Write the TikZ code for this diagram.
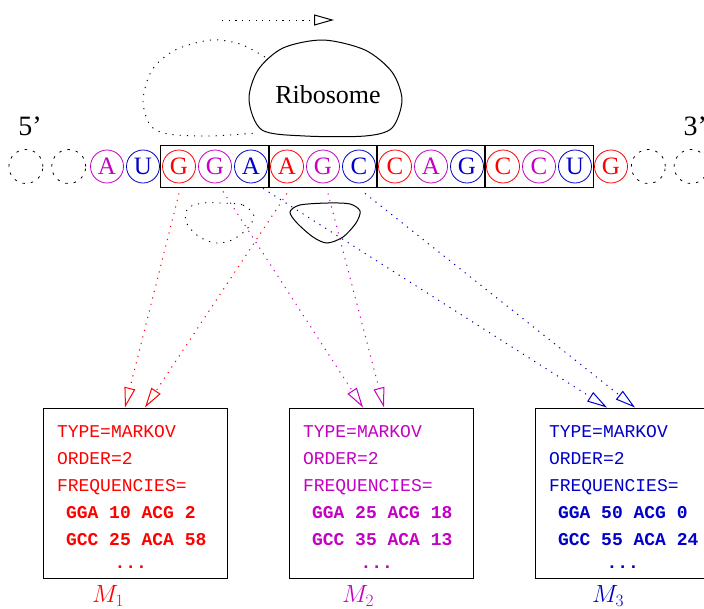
\documentclass[tikz,border=0pt]{standalone}
\usepackage{fontspec}
\setmainfont{Liberation Serif}
\setmonofont{Liberation Mono}
\usetikzlibrary{arrows.meta,positioning,fit}
\definecolor{cred}{RGB}{255,0,0}
\definecolor{cmag}{RGB}{195,0,195}
\definecolor{cblue}{RGB}{0,0,200}
\colorlet{cc0}{cred}
\colorlet{cc1}{cmag}
\colorlet{cc2}{cblue}
\newcommand{\tsp}{\hspace*{0.6em}}
\tikzstyle{base} = [circle, draw, line width=0.8pt, minimum size=33pt, inner sep=0pt, font=\fontsize{25}{25}\selectfont]
\tikzstyle{ghost} = [circle, draw, line width=0.8pt, minimum size=34pt, inner sep=0pt, dash pattern=on 2.5pt off 6pt]
\tikzstyle{codon} = [rectangle, draw, line width=1pt, inner xsep=2pt, inner ysep=4pt]
\tikzstyle{modelbox} = [rectangle, draw, line width=1pt, minimum width=184pt, minimum height=170pt]
\tikzstyle{modeltext} = [text width=156pt, align=left, inner sep=0pt, font=\ttfamily\fontsize{18}{27}\selectfont]
\tikzstyle{link} = [line width=1pt, dash pattern=on 1.2pt off 5.5pt, -{Triangle[open,length=20pt,width=11pt,line width=1pt]}]
\tikzstyle{trace} = [line width=0.9pt, dash pattern=on 1.2pt off 6pt]
\tikzstyle{mlabel} = [inner sep=2pt, font=\fontsize{27}{27}\selectfont]

\begin{document}
\begin{tikzpicture}[x=1pt, y=-1pt]
\useasboundingbox (0,0) rectangle (704,608);

% mRNA strand
\foreach \l [count=\i] in {A,U,G,G,A,A,G,C,C,A,G,C,C,U,G} {
  \pgfmathtruncatemacro\r{mod(\i,3)}
  \node[base, draw=cc\r, text=cc\r] (n\i) at ({71+36*\i},166.5) {\l};
}
\node[ghost, left=4pt of n1] (g2) {};
\node[ghost, left=8pt of g2] (g1) {};
\node[ghost, right=3pt of n15] (g3) {};
\node[ghost, right=8pt of g3] (g4) {};
\node[font=\fontsize{28}{28}\selectfont] (five) at (30,126) {5'};
\node[font=\fontsize{28}{28}\selectfont, anchor=west] (three) at (680,126) {3'};

% codons
\node[codon, fit=(n3)(n5)] (c1) {};
\node[codon, fit=(n6)(n8)] (c2) {};
\node[codon, fit=(n9)(n11)] (c3) {};
\node[codon, fit=(n12)(n14)] (c4) {};

% ribosome and its previous position
\node[font=\fontsize{26}{26}\selectfont] (ribo) at (328,95) {Ribosome};
\draw[line width=1pt] plot[smooth cycle] coordinates {(323,40) (365,50) (392,72) (402,100) (392,128) (365,136) (305,136) (262,130) (249,100) (258,70) (283,48)};
\draw[line width=1pt] plot[smooth cycle] coordinates {(328,203) (350,204) (360,211) (356,223) (343,237) (327,243) (313,237) (297,223) (290,212) (300,205)};
\draw[trace] plot[smooth] coordinates {(265,57) (240,44) (211,40) (175,50) (152,70) (143,100) (150,125) (168,134) (210,136) (256,133)};
\draw[trace] plot[smooth cycle] coordinates {(220,203) (243,205) (254,216) (247,229) (232,240) (215,243) (198,236) (186,222) (188,208) (203,203)};
\coordinate (mv0) at (222,20);
\coordinate (mv1) at (334,20);
\draw[link] (mv0) -- (mv1);

% models
\node[modelbox] (m1) at (135,493) {};
\node[modelbox, right=61pt of m1] (m2) {};
\node[modelbox, right=61pt of m2] (m3) {};
\node[modeltext, text=cred, yshift=-4pt] (t1) at (m1) {TYPE=MARKOV\\ORDER=2\\FREQUENCIES=\\\bfseries\hspace*{0.5em}GGA\tsp 10\tsp ACG\tsp 2\\\hspace*{0.5em}GCC\tsp 25\tsp ACA\tsp 58\\[-4pt]\hspace*{3.2em}...};
\node[modeltext, text=cmag, yshift=-4pt] (t2) at (m2) {TYPE=MARKOV\\ORDER=2\\FREQUENCIES=\\\bfseries\hspace*{0.5em}GGA\tsp 25\tsp ACG\tsp 18\\\hspace*{0.5em}GCC\tsp 35\tsp ACA\tsp 13\\[-4pt]\hspace*{3.2em}...};
\node[modeltext, text=cblue, yshift=-4pt] (t3) at (m3) {TYPE=MARKOV\\ORDER=2\\FREQUENCIES=\\\bfseries\hspace*{0.5em}GGA\tsp 50\tsp ACG\tsp 0\\\hspace*{0.5em}GCC\tsp 55\tsp ACA\tsp 24\\[-4pt]\hspace*{3.2em}...};
\node[mlabel, text=cred, below=5pt of m1, xshift=-27pt] (l1) {$M_1$};
\node[mlabel, text=cmag, below=5pt of m2, xshift=-23pt] (l2) {$M_2$};
\node[mlabel, text=cblue, below=5pt of m3, xshift=-19pt] (l3) {$M_3$};

% codon positions to models
\draw[link, cred] ([yshift=-10pt]n3.south) -- ([xshift=-10pt]m1.north);
\draw[link, cred] ([yshift=-10pt]n6.south) -- ([xshift=10pt]m1.north);
\draw[link, cmag] ([xshift=8pt,yshift=-8pt]n4.south) -- ([xshift=-18pt]m2.north);
\draw[link, cmag] ([xshift=5pt,yshift=-10pt]n7.south) -- ([xshift=3pt]m2.north);
\draw[link, cblue] ([xshift=12pt,yshift=-5pt]n5.south) -- ([xshift=-20pt]m3.north);
\draw[link, cblue] ([xshift=6pt,yshift=-10pt]n8.south) -- ([xshift=8pt]m3.north);
\end{tikzpicture}
\end{document}
